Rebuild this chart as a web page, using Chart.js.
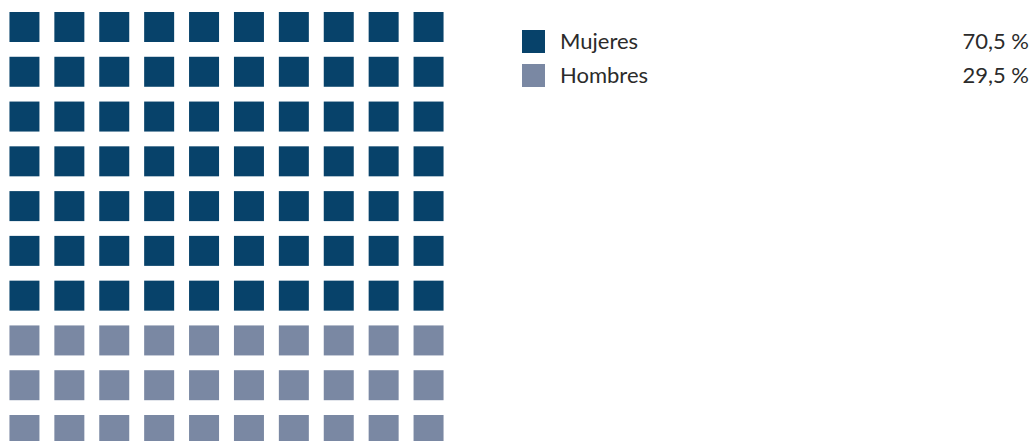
<!DOCTYPE html>
<html lang="es">
<head>
<meta charset="utf-8">
<script src="https://cdn.jsdelivr.net/npm/chart.js@4"></script>
<style>
  html, body { margin: 0; padding: 0; background: #fff; overflow: hidden; }
  body { width: 1033px; height: 441px; position: relative; font-family: "Lato", sans-serif; font-weight: 400; color: #2b2b2b; }
  #caja { position: absolute; left: 1.5px; top: 0; width: 449px; height: 441px; }
  .leyenda { position: absolute; left: 522px; width: 507px; font-size: 22px; line-height: 23px; }
  .leyenda .cuadro { position: absolute; left: 0; top: 0; width: 23px; height: 23px; }
  .leyenda .nombre { position: absolute; left: 38px; top: -1px; }
  .leyenda .valor { position: absolute; right: 0; top: -1px; }
</style>
</head>
<body>
<div id="caja"><canvas id="waffle"></canvas></div>
<div id="leyendas"></div>
<script>
// Datos del gráfico
const categorias = ["Mujeres", "Hombres"];
const porcentajes = [70.5, 29.5];
const celdas = [70, 30]; // cuadros de 100 que ocupa cada categoría
const colores = ["#07426a", "#7a88a3"];

const columnas = 10;

// Construir los puntos del waffle: fila 0 arriba
const datasets = [];
let indice = 0;
categorias.forEach((cat, i) => {
  const puntos = [];
  for (let k = 0; k < celdas[i]; k++) {
    puntos.push({ x: indice % columnas, y: Math.floor(indice / columnas) });
    indice++;
  }
  datasets.push({
    label: cat,
    data: puntos,
    backgroundColor: colores[i],
    borderWidth: 0,
    pointStyle: "rect",
    pointRadius: 30 / Math.SQRT2,
    pointHoverRadius: 30 / Math.SQRT2,
    clip: false,
  });
});

new Chart(document.getElementById("waffle"), {
  type: "scatter",
  data: { datasets },
  options: {
    responsive: true,
    maintainAspectRatio: false,
    animation: false,
    layout: { padding: 0, autoPadding: false },
    plugins: { legend: { display: false }, tooltip: { enabled: false } },
    scales: {
      x: { type: "linear", min: -0.5, max: 9.5, display: false },
      y: { type: "linear", reverse: true, min: -0.603, max: 9.246, display: false },
    },
  },
});

// Leyenda con porcentajes
const numero = new Intl.NumberFormat("es-ES", { minimumFractionDigits: 1 });
const leyendas = document.getElementById("leyendas");
categorias.forEach((cat, i) => {
  const fila = document.createElement("div");
  fila.className = "leyenda";
  fila.style.top = 30 + i * 34 + "px";
  fila.innerHTML = `<span class="cuadro" style="background:${colores[i]}"></span>
    <span class="nombre">${cat}</span>
    <span class="valor">${numero.format(porcentajes[i])} %</span>`;
  leyendas.appendChild(fila);
});
</script>
</body>
</html>
